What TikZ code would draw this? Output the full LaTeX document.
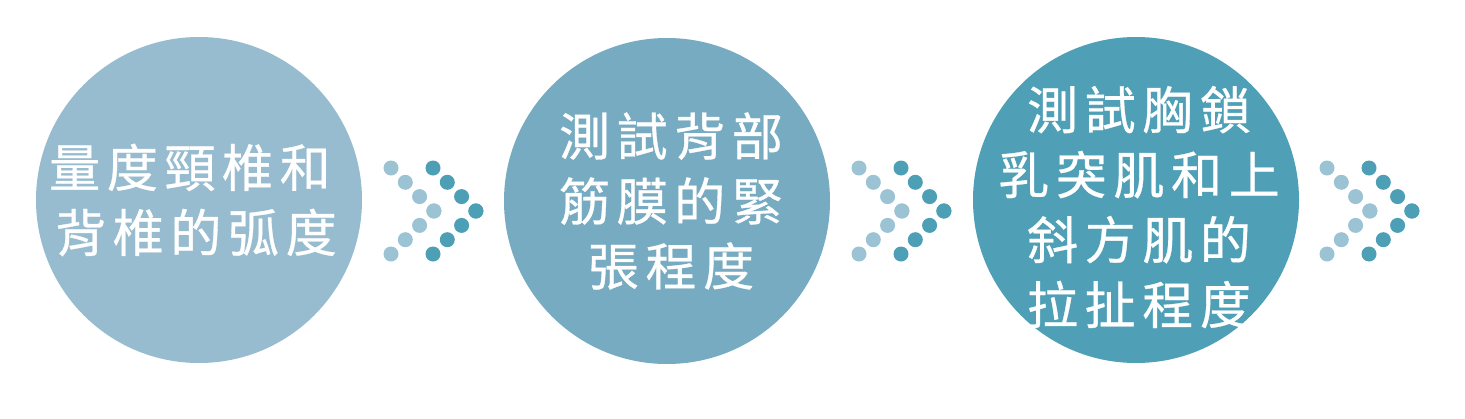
\documentclass[tikz,border=0pt]{standalone}
\usepackage{fontspec}
\newfontfamily\cjk{Noto Sans CJK TC}[LetterSpace=13, FakeBold=0.6]
\usepackage{tikz}

\definecolor{stepA}{HTML}{97BCCF}
\definecolor{stepB}{HTML}{76ABC1}
\definecolor{stepC}{HTML}{4FA0B6}
\definecolor{dotlight}{HTML}{9CC3D3}
\definecolor{dotdark}{HTML}{4C9FB5}

\tikzset{
    stepdisc/.style={circle, inner sep=0pt, minimum size=326pt},
    steptext/.style={text=white, align=center, inner sep=0pt,
        font=\cjk\fontsize{51}{65}\selectfont},
}

\begin{document}
\begin{tikzpicture}[x=1pt, y=-1pt]
    \useasboundingbox[fill=white] (0, 0) rectangle (1465, 418);

    % The three steps
    \node[stepdisc, fill=stepA] (disc1) at (199, 200) {};
    \node[stepdisc, fill=stepB] (disc2) at (667, 201) {};
    \node[stepdisc, fill=stepC] (disc3) at (1136, 200) {};

    \node[steptext] (text1) at (196, 200) {量度頸椎和\hspace*{12pt}\\背椎的弧度};
    \node[steptext] (text2) at (671, 201) {測試背部\\筋膜的緊\\張程度};
    \node[steptext] (text3) at (1139, 207) {測試胸鎖\\乳突肌和上\\斜方肌的\\拉扯程度};

    % Dotted chevrons after each step
    \foreach \i in {0, 1, 2} {
        \foreach \k in {0, 1, 2, 3} {
            \fill[dotlight] (391 + 468*\i + 14.3*\k, 168 + 14.3*\k) circle (7.5);
            \fill[dotlight] (391 + 468*\i + 14.3*\k, 254 - 14.3*\k) circle (7.5);
            \fill[dotdark] (433 + 468*\i + 14.3*\k, 168 + 14.3*\k) circle (7.5);
            \fill[dotdark] (433 + 468*\i + 14.3*\k, 254 - 14.3*\k) circle (7.5);
        }
    }
\end{tikzpicture}
\end{document}
